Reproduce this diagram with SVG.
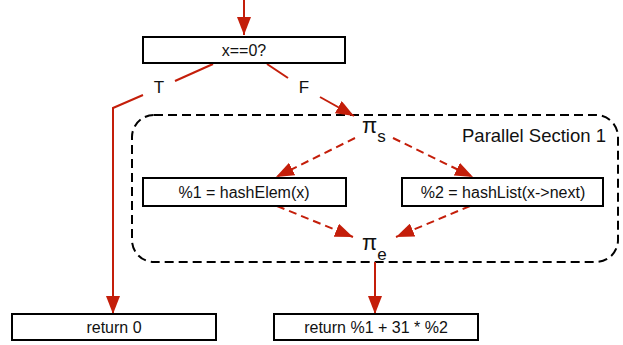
<svg xmlns="http://www.w3.org/2000/svg" width="623" height="345" viewBox="0 0 623 345">
<style>
.box{fill:#fff;stroke:#000;stroke-width:2}
.t{font-family:"Liberation Sans",Arial,sans-serif;font-size:16px;fill:#111;text-anchor:middle}
.e{fill:none;stroke:#c41e0a;stroke-width:2}
.d{stroke-dasharray:8,5}
.pi{font-family:"Liberation Sans",Arial,sans-serif;font-size:22px;fill:#111}
.sub{font-size:17px}
</style>
<defs>
<marker id="ah" markerUnits="userSpaceOnUse" markerWidth="18" markerHeight="14" refX="18" refY="7" orient="auto">
<path d="M0,0 L18,7 L0,14 z" fill="#c41e0a"/>
</marker>
</defs>
<rect x="132" y="115" width="486" height="147" rx="22" ry="22" fill="none" stroke="#000" stroke-width="2" stroke-dasharray="9,5"/>
<text class="t" x="534" y="142" style="font-size:18.5px">Parallel Section 1</text>
<g id="connectors">
<line class="e" x1="244" y1="0" x2="244" y2="35" marker-end="url(#ah)"/>
<line class="e" x1="213" y1="64" x2="175" y2="81"/>
<polyline class="e" points="143,95 113,108 113,314" marker-end="url(#ah)"/>
<line class="e" x1="267" y1="64" x2="288" y2="78"/>
<line class="e" x1="320" y1="97" x2="354" y2="116" marker-end="url(#ah)"/>
<line class="e d" x1="355" y1="138" x2="276" y2="177" marker-end="url(#ah)"/>
<line class="e d" x1="393" y1="138" x2="473" y2="177" marker-end="url(#ah)"/>
<line class="e d" x1="277" y1="206" x2="353" y2="237" marker-end="url(#ah)"/>
<line class="e d" x1="470" y1="206" x2="396" y2="237" marker-end="url(#ah)"/>
<line class="e" x1="375" y1="262" x2="375" y2="314" marker-end="url(#ah)"/>
</g>
<g id="cond">
<rect class="box" x="143" y="37" width="202" height="26"/>
<text class="t" x="244" y="56">x==0?</text>
</g>
<text class="t" x="159" y="93" style="font-size:17px">T</text>
<text class="t" x="304" y="93" style="font-size:17px">F</text>
<g id="pis">
<text class="pi" x="362" y="133">π<tspan class="sub" dy="9">s</tspan></text>
</g>
<g id="elem">
<rect class="box" x="143" y="178" width="203" height="28"/>
<text class="t" x="244" y="197.5">%1 = hashElem(x)</text>
</g>
<g id="list">
<rect class="box" x="402" y="178" width="201" height="28"/>
<text class="t" x="503" y="197.5">%2 = hashList(x-&gt;next)</text>
</g>
<g id="pie">
<text class="pi" x="362" y="250">π<tspan class="sub" dy="10">e</tspan></text>
</g>
<g id="ret0">
<rect class="box" x="12" y="314" width="204" height="26"/>
<text class="t" x="114" y="333">return 0</text>
</g>
<g id="ret">
<rect class="box" x="274" y="314" width="204" height="26"/>
<text class="t" x="376" y="333">return %1 + 31 * %2</text>
</g>
</svg>
